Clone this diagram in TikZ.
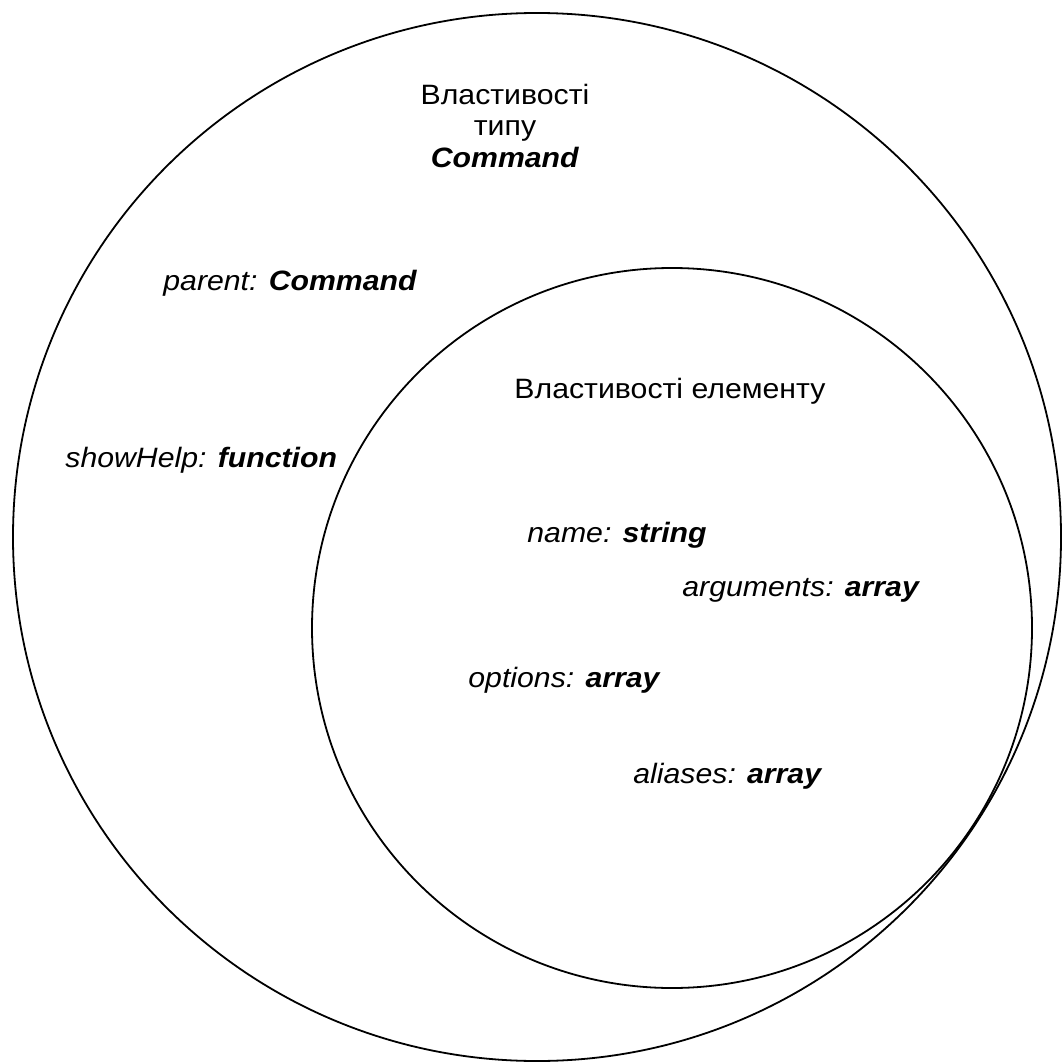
\documentclass[tikz,border=0pt]{standalone}
\usepackage{fontspec}
\setmainfont[FakeStretch=1.08]{Liberation Sans}
\usetikzlibrary{positioning}

\begin{document}
\begin{tikzpicture}[x=0.5pt,y=-0.5pt,
	ring/.style={line width=0.9pt},
	prop/.style={anchor=base west,inner sep=0pt,font=\fontsize{14}{16}\selectfont\itshape},
	head/.style={align=center,inner sep=0pt,font=\fontsize{14}{15.8}\selectfont}]
	\useasboundingbox (0,0) rectangle (1062,1063);
	
	\coordinate (O) at (537,537);
	\coordinate (I) at (672,628);
	
	\draw[ring] (O) circle[radius=262pt];
	\draw[ring] (I) circle[radius=180pt];
	
	% outer set
	\node[head] (typetitle) at (505,126) {Властивості\\типу\\\textbf{\textit{Command}}};
	\node[prop] (parent) at (163,291) {parent: \textbf{Command}};
	\node[prop] (showhelp) at (65,467) {showHelp: \textbf{function}};
	
	% inner set
	\node[head,anchor=base] (itemtitle) at (670,398) {Властивості елементу};
	\node[prop] (name) at (527,542) {name: \textbf{string}};
	\node[prop] (arguments) at (682,596) {arguments: \textbf{array}};
	\node[prop] (options) at (468,687) {options: \textbf{array}};
	\node[prop] (aliases) at (633,783) {aliases: \textbf{array}};
\end{tikzpicture}
\end{document}
